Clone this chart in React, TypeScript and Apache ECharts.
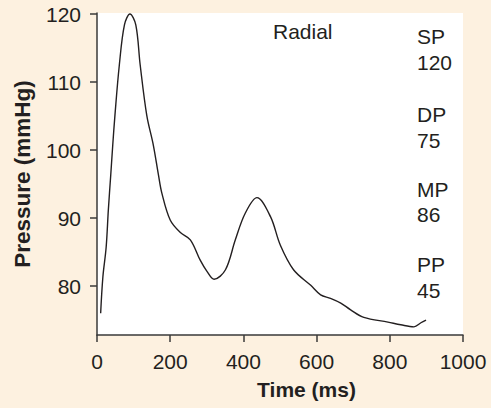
import React, { useEffect, useRef } from "react";
import * as echarts from "echarts";

const timeMs = [10, 16, 25, 31, 37.5, 43, 49, 61, 75, 90, 106, 118, 136, 154, 168, 177, 200, 227, 255, 282, 300, 320, 351, 378, 405, 437, 474, 501, 537, 584, 611, 638, 666, 693, 729, 795, 830, 866, 885, 899];
const pressure = [76.0, 81.3, 85.7, 91.2, 96.3, 100.7, 105.1, 112.5, 118.4, 120, 118.4, 112.5, 105.1, 100.7, 96.3, 93.7, 89.7, 87.9, 86.8, 83.8, 82.2, 81.0, 82.4, 86.8, 90.7, 93.0, 90.2, 86.0, 82.4, 80.1, 78.7, 78.2, 77.5, 76.5, 75.4, 74.7, 74.3, 74.0, 74.6, 75.0];
const yTicks = [80, 90, 100, 110, 120];
const seriesName = "Radial";
const statLabels = ["SP", "DP", "MP", "PP"];
const statValues = ["120", "75", "86", "45"];

export default function App() {
  const ref = useRef<HTMLDivElement>(null);
  useEffect(() => {
    if (!ref.current) return;
    const chart = echarts.init(ref.current, null, { renderer: "svg" });
    const font = "'Liberation Sans', Arial, sans-serif";
    const textColor = "#231f20";
    const statY = [[36, 62.5], [114, 140], [189, 214.5], [264.5, 290]];
    const graphics: any[] = [
      {
        type: "text",
        x: 273,
        y: 31,
        style: { text: seriesName, font: `21px ${font}`, fill: textColor, verticalAlign: "middle", textAlign: "left" },
      },
    ];
    statLabels.forEach((s, i) => {
      graphics.push({
        type: "text",
        x: 417,
        y: statY[i][0],
        style: { text: s, font: `21px ${font}`, fill: textColor, verticalAlign: "middle", textAlign: "left" },
      });
      graphics.push({
        type: "text",
        x: 417,
        y: statY[i][1],
        style: { text: statValues[i], font: `21px ${font}`, fill: textColor, verticalAlign: "middle", textAlign: "left" },
      });
    });
    chart.setOption({
      animation: false,
      backgroundColor: "#fdf1e0",
      grid: {
        left: 97,
        right: 28,
        top: 13,
        bottom: 73,
        show: true,
        backgroundColor: "#ffffff",
        borderWidth: 0,
      },
      xAxis: {
        type: "value",
        min: 0,
        max: 1000,
        interval: 200,
        name: "Time (ms)",
        nameLocation: "middle",
        nameGap: 44,
        nameTextStyle: { fontFamily: font, fontSize: 21, fontWeight: "bold", color: textColor, padding: [0, 0, 0, 53] },
        axisLine: { show: true, lineStyle: { color: "#3a3a3a", width: 1.5 } },
        axisTick: { show: true, inside: false, length: 7, lineStyle: { color: "#3a3a3a", width: 1.5 } },
        axisLabel: { fontFamily: font, fontSize: 21, color: textColor, margin: 16, formatter: (v: number) => String(v) },
        splitLine: { show: false },
      },
      yAxis: {
        type: "value",
        min: 72.8,
        max: 120.15,
        name: "Pressure (mmHg)",
        nameLocation: "middle",
        nameGap: 63,
        nameRotate: 90,
        nameTextStyle: { fontFamily: font, fontSize: 22.5, fontWeight: "bold", color: textColor },
        axisLine: { show: true, lineStyle: { color: "#3a3a3a", width: 1.5 } },
        axisTick: { show: true, inside: false, length: 7, customValues: yTicks, lineStyle: { color: "#3a3a3a", width: 1.5 } },
        axisLabel: { fontFamily: font, fontSize: 21, color: textColor, margin: 16, customValues: yTicks, formatter: (v: number) => String(v) },
        splitLine: { show: false },
      },
      graphic: graphics,
      series: [
        {
          name: seriesName,
          type: "line",
          data: timeMs.map((t, i) => [t, pressure[i]]),
          smooth: 0.35,
          showSymbol: false,
          lineStyle: { color: "#231f20", width: 1.4 },
        },
      ],
    });
    return () => chart.dispose();
  }, []);
  return <div ref={ref} style={{ position: "fixed", left: 0, top: 0, width: 491, height: 408 }} />;
}
